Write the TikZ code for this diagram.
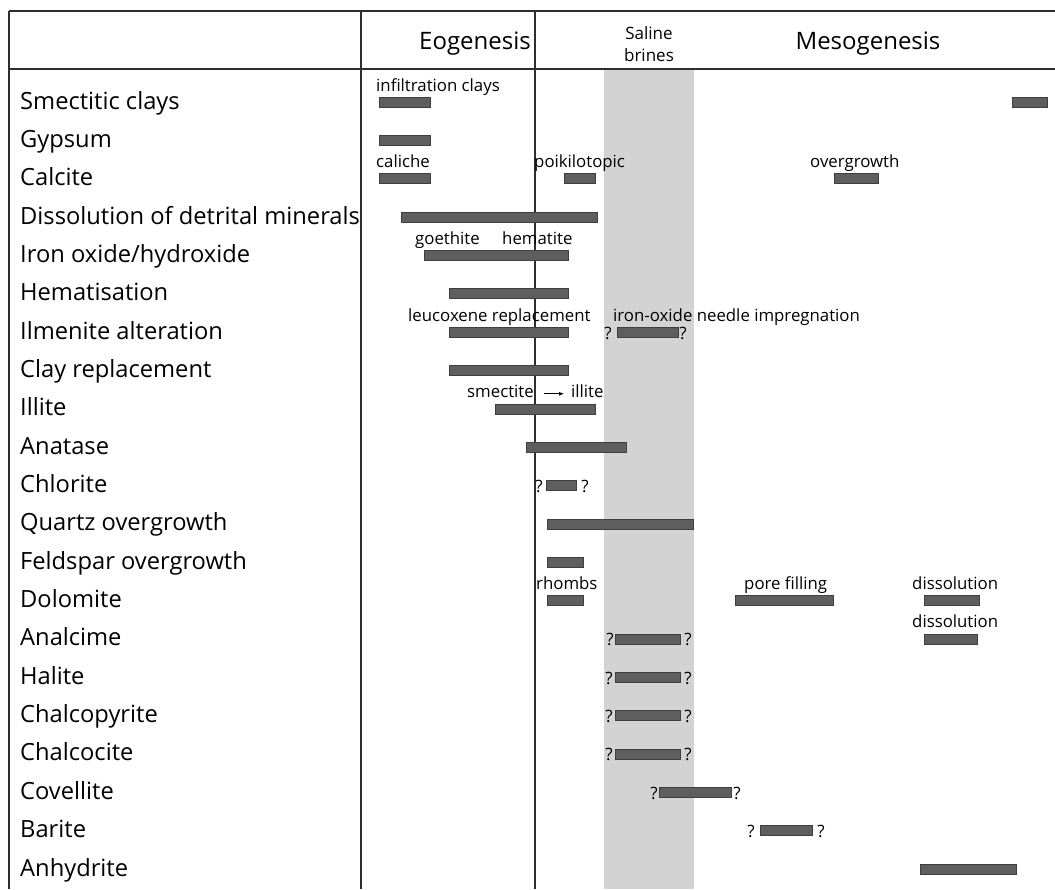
\documentclass[tikz,border=0pt]{standalone}
\usepackage{fontspec}
\setmainfont{Open Sans}
\usetikzlibrary{arrows.meta}
\definecolor{BarGray}{HTML}{5E5E5E}
\definecolor{BarEdge}{HTML}{3F3F3F}
\definecolor{BrineGray}{HTML}{D3D3D3}
\definecolor{RuleGray}{HTML}{2E2E2E}
\tikzset{
  rowlabel/.style={anchor=base west, inner sep=0pt, font=\fontsize{23.7}{23.7}\selectfont},
  note/.style={anchor=base west, inner sep=0pt, font=\fontsize{16.8}{16.8}\selectfont},
  head/.style={inner sep=0pt, font=\fontsize{24}{24}\selectfont},
  qmark/.style={inner sep=0pt, font=\fontsize{17}{17}\selectfont},
  phase/.style={fill=BarGray, draw=BarEdge, line width=0.6pt},
  rule/.style={line width=1.4pt, color=RuleGray},
  arr/.style={-{Latex[length=5pt, width=4pt]}, line width=0.8pt},
}
% row centre, in px from the top
\newcommand{\rowy}[1]{101+38.35*#1}
\newcommand{\phasebar}[3]{\draw[phase] (#2,{\rowy{#1}-4}) rectangle (#3,{\rowy{#1}+6});}
% bar with a question mark at each end
\newcommand{\unsure}[5]{%
  \phasebar{#1}{#3}{#4}
  \node[qmark] (ql#1) at (#2,{\rowy{#1}+2}) {?};
  \node[qmark] (qr#1) at (#5,{\rowy{#1}+2}) {?};}

\begin{document}
\begin{tikzpicture}[x=1pt, y=-1pt]
\useasboundingbox (0,0) rectangle (1055,889);

% saline brines band
\fill[BrineGray] (604,69) rectangle (694,889);

% table rules
\draw[rule] (9,11) -- (1055,11);
\draw[rule] (9,69) -- (1055,69);
\draw[rule] (9,11) -- (9,889);
\draw[rule] (361,11) -- (361,889);
\draw[rule] (535,11) -- (535,889);

% headings
\node[head, anchor=east] (eogen) at (531,44) {Eogenesis};
\node[inner sep=0pt, align=center, font=\fontsize{17}{22}\selectfont] (brines) at (649,44) {Saline\\brines};
\node[head] (mesogen) at (868,44) {Mesogenesis};

% row labels
\foreach \name [count=\i from 0] in {Smectitic clays, Gypsum, Calcite,
  Dissolution of detrital minerals, Iron oxide/hydroxide, Hematisation,
  Ilmenite alteration, Clay replacement, Illite, Anatase, Chlorite,
  Quartz overgrowth, Feldspar overgrowth, Dolomite, Analcime, Halite,
  Chalcopyrite, Chalcocite, Covellite, Barite, Anhydrite}
  \node[rowlabel] (r\i) at (20,{\rowy{\i}+8}) {\name};

% timing bars
\phasebar{0}{379}{430}
\phasebar{0}{1012}{1047}
\phasebar{1}{379}{430}
\phasebar{2}{379}{430}
\phasebar{2}{564}{595}
\phasebar{2}{834}{878}
\phasebar{3}{401}{597}
\phasebar{4}{424}{568}
\phasebar{5}{449}{568}
\phasebar{6}{449}{568}
\unsure{6}{608}{617}{678}{683}
\phasebar{7}{449}{568}
\phasebar{8}{495}{595}
\phasebar{9}{526}{626}
\unsure{10}{539}{546}{576}{585}
\phasebar{11}{547}{693}
\phasebar{12}{547}{583}
\phasebar{13}{547}{583}
\phasebar{13}{735}{833}
\phasebar{13}{924}{979}
\unsure{14}{610}{615}{680}{688}
\phasebar{14}{924}{977}
\unsure{15}{609}{615}{680}{688}
\unsure{16}{609}{615}{680}{688}
\unsure{17}{609}{615}{680}{688}
\unsure{18}{654}{659}{731}{737}
\unsure{19}{751}{760}{812}{821}
\phasebar{20}{920}{1016}

% notes above bars
\node[note] (infil) at (376,{\rowy{0}-10}) {infiltration clays};
\node[note] (caliche) at (376,{\rowy{2}-10}) {caliche};
\node[note] (poik) at (534,{\rowy{2}-10}) {poikilotopic};
\node[note] (overg) at (810,{\rowy{2}-10}) {overgrowth};
\node[note] (goeth) at (415,{\rowy{4}-10}) {goethite};
\node[note] (hemat) at (502,{\rowy{4}-10}) {hematite};
\node[note] (leuco) at (408,{\rowy{6}-10}) {leucoxene replacement};
\node[note] (needle) at (613,{\rowy{6}-10}) {iron-oxide needle impregnation};
\node[note] (smec) at (467,{\rowy{8}-10}) {smectite};
\node[note] (ill) at (571,{\rowy{8}-10}) {illite};
\node[note] (rhombs) at (536,{\rowy{13}-10}) {rhombs};
\node[note] (pore) at (744,{\rowy{13}-10}) {pore filling};
\node[note] (dissA) at (912,{\rowy{13}-10}) {dissolution};
\node[note] (dissB) at (912,{\rowy{14}-10}) {dissolution};

\draw[arr, shorten <=10pt, shorten >=7pt] ([yshift=4pt]smec.base east) -- ([yshift=4pt]ill.base west);

\end{tikzpicture}
\end{document}
